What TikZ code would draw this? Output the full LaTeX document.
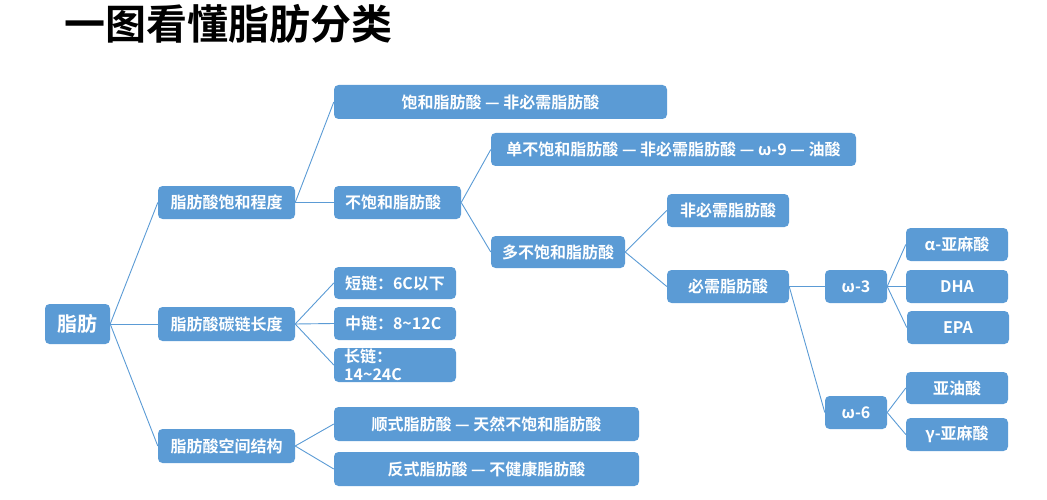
\documentclass[tikz,border=0pt]{standalone}
\usepackage{fontspec}
\setmainfont{Noto Sans CJK SC}[BoldFont={* Bold}]
\definecolor{boxblue}{HTML}{5B9BD5}
\definecolor{lineblue}{HTML}{5B9BD5}
\tikzset{
  bx/.style={fill=boxblue, draw=none, rounded corners=4.5pt, text=white,
    font=\fontsize{16}{18}\selectfont\bfseries, inner sep=0pt, align=center},
  bxl/.style={bx, align=left},
  ln/.style={draw=lineblue, line width=0.9pt},
  lbl/.style={anchor=west, inner sep=0pt, text=white, font=\fontsize{16}{18}\selectfont\bfseries},
}
\begin{document}
\begin{tikzpicture}[x=1pt,y=-1pt]
\useasboundingbox (0,0) rectangle (1047,500);
% title
\node[anchor=west, inner sep=0pt, font=\fontsize{41}{44}\selectfont\bfseries] (title) at (64,24) {一图看懂脂肪分类};
% root
\node[bx, minimum width=65pt, minimum height=40pt, font=\fontsize{20}{22}\selectfont\bfseries] (root) at (77.5,324) {脂肪};
% level 1
\node[bx, minimum width=137pt, minimum height=33pt] (sat) at (226.5,202.5) {脂肪酸饱和程度};
\node[bx, minimum width=137pt, minimum height=34pt] (len) at (226.5,324) {脂肪酸碳链长度};
\node[bx, minimum width=137pt, minimum height=34pt] (spa) at (226.5,446) {脂肪酸空间结构};
% saturation branch
\node[bx, minimum width=333pt, minimum height=34pt] (sfa) at (500.5,102) {饱和脂肪酸 — 非必需脂肪酸};
\node[bxl, minimum width=127pt, minimum height=33pt, text width=105pt] (ufa) at (397.5,202.5) {不饱和脂肪酸};
\node[bx, minimum width=365pt, minimum height=33pt] (mufa) at (673.5,149.5) {单不饱和脂肪酸 — 非必需脂肪酸 — ω-9 — 油酸};
\node[bx, minimum width=134pt, minimum height=32pt] (pufa) at (558,252) {多不饱和脂肪酸};
\node[bx, minimum width=122pt, minimum height=33pt] (nefa) at (728,210.5) {非必需脂肪酸};
\node[bx, minimum width=122pt, minimum height=33pt] (efa) at (728,286.5) {必需脂肪酸};
\node[bx, minimum width=62pt, minimum height=33pt] (w3) at (856,286.5) {ω-3};
\node[bx, minimum width=62pt, minimum height=33pt] (w6) at (856,412.5) {ω-6};
\node[bx, minimum width=102pt, minimum height=33pt] (ala) at (957,244.5) {α-亚麻酸};
\node[bx, minimum width=102pt, minimum height=33pt] (dha) at (957,286.5) {DHA};
\node[bx, minimum width=102pt, minimum height=33pt] (epa) at (958,327.5) {EPA};
\node[bx, minimum width=102pt, minimum height=32pt] (la) at (957,388) {亚油酸};
\node[bx, minimum width=102pt, minimum height=33pt] (gla) at (957,434.5) {γ-亚麻酸};
% chain length branch
\node[bxl, minimum width=122pt, minimum height=32pt, text width=100pt] (sc) at (395,283) {短链：6C以下};
\node[bxl, minimum width=122pt, minimum height=33pt, text width=100pt] (mc) at (395,323.5) {中链：8\textasciitilde12C};
\node[bx, minimum width=122pt, minimum height=34pt] (lc) at (395,365) {};
\node[lbl] (lct1) at (344,356) {长链：};
\node[lbl] (lct2) at (344,375) {14\textasciitilde24C};
% spatial branch
\node[bx, minimum width=305pt, minimum height=34pt] (cis) at (486.5,424) {顺式脂肪酸 — 天然不饱和脂肪酸};
\node[bx, minimum width=305pt, minimum height=34pt] (trans) at (486.5,469) {反式脂肪酸 — 不健康脂肪酸};
% connectors
\draw[ln] (root.east) -- (sat.west);
\draw[ln] (root.east) -- (len.west);
\draw[ln] (root.east) -- (spa.west);
\draw[ln] (sat.east) -- (sfa.west);
\draw[ln] (sat.east) -- (ufa.west);
\draw[ln] (ufa.east) -- (mufa.west);
\draw[ln] (ufa.east) -- (pufa.west);
\draw[ln] (pufa.east) -- (nefa.west);
\draw[ln] (pufa.east) -- (efa.west);
\draw[ln] (efa.east) -- (w3.west);
\draw[ln] (efa.east) -- (w6.west);
\draw[ln] (w3.east) -- (ala.west);
\draw[ln] (w3.east) -- (dha.west);
\draw[ln] (w3.east) -- (epa.west);
\draw[ln] (w6.east) -- (la.west);
\draw[ln] (w6.east) -- (gla.west);
\draw[ln] (len.east) -- (sc.west);
\draw[ln] (len.east) -- (mc.west);
\draw[ln] (len.east) -- (lc.west);
\draw[ln] (spa.east) -- (cis.west);
\draw[ln] (spa.east) -- (trans.west);
\end{tikzpicture}
\end{document}
